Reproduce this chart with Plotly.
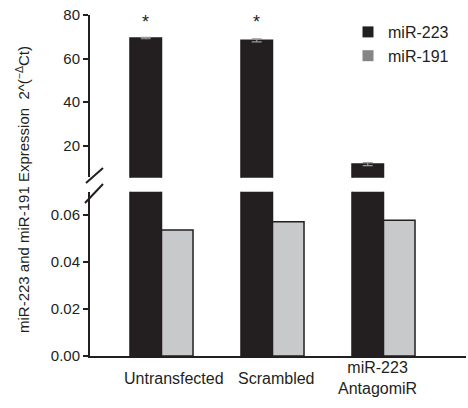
import plotly.graph_objects as go

categories = ["Untransfected", "Scrambled", "miR-223<br>AntagomiR"]
mir223 = [69.4, 68.4, 11.6]
mir223_err = [0.3, 0.7, 0.7]
mir191 = [0.0535, 0.0570, 0.0577]
upper_ticks = [20, 40, 60, 80]
lower_ticks = [0.00, 0.02, 0.04, 0.06]
lower_ticktext = ["0.00", "0.02", "0.04", "0.06"]
significant = [True, True, False]

BLACK = "#231f20"
GREY = "#c8c9cb"
LEG_GREY = "#858585"
FONT = "Liberation Sans, Arial, sans-serif"

W, H = 468, 408
L, R, T, B = 90, 2, 15, 52
ph = H - T - B
pw = W - L - R
px_per_cat = 111.0
x0 = -71.5 / px_per_cat
x1 = x0 + pw / px_per_cat

def py(yp):
    return (H - B - yp) / ph

def pxp(xp):
    return (xp - L) / pw

xs = list(range(len(categories)))

fig = go.Figure()
for yax in ["y", "y2"]:
    fig.add_trace(go.Bar(
        x=xs, y=mir223, yaxis=yax, name="miR-223", showlegend=False,
        marker=dict(color=BLACK, line=dict(color=BLACK, width=1.5)),
        error_y=dict(type="data", array=mir223_err, color="#9a9a9a",
                     thickness=1.2, width=5, visible=(yax == "y2")),
        hoverinfo="skip",
    ))
    fig.add_trace(go.Bar(
        x=xs, y=mir191, yaxis=yax, name="miR-191", showlegend=False,
        marker=dict(color=GREY, line=dict(color=BLACK, width=1.5)),
        hoverinfo="skip",
    ))

# legend entries
fig.add_trace(go.Scatter(x=[None], y=[None], mode="markers", name="miR-223",
                         marker=dict(symbol="square", size=11, color=BLACK)))
fig.add_trace(go.Scatter(x=[None], y=[None], mode="markers", name="miR-191",
                         marker=dict(symbol="square", size=11, color=LEG_GREY)))

upper_bottom = 20 - (177.7 - 145.7) / 43.6 * 20
lower_top = 0.06 + (214.7 - 191.7) / 47.0 * 0.02

annotations = []
for i, s in enumerate(significant):
    if s:
        annotations.append(dict(x=i, y=1.0, xref="x", yref="paper", text="*",
                                showarrow=False, xshift=-15.7, yshift=5,
                                font=dict(size=18, color=BLACK, family=FONT)))
label_shift = [0.113, 0.031, -0.058]
for i, c in enumerate(categories):
    annotations.append(dict(x=i + label_shift[i], y=py(378), xref="x", yref="paper",
                            text=c, showarrow=False, yanchor="middle",
                            font=dict(size=16, color=BLACK, family=FONT)))

shapes = []
for (xa, ya, xb, yb) in [(86, 183, 103, 168), (85, 203, 103, 184)]:
    shapes.append(dict(type="line", xref="paper", yref="paper",
                       x0=pxp(xa), y0=py(ya), x1=pxp(xb), y1=py(yb),
                       line=dict(color=BLACK, width=2)))
# white gap in axis between break marks
shapes.insert(0, dict(type="rect", xref="paper", yref="paper",
                      x0=pxp(86), x1=pxp(94), y0=py(190), y1=py(177),
                      fillcolor="white", line=dict(width=0), layer="above"))

fig.update_layout(
    width=W, height=H,
    margin=dict(l=L, r=R, t=T, b=B, pad=0),
    paper_bgcolor="white", plot_bgcolor="white",
    barmode="group", bargap=0.432, bargroupgap=0,
    font=dict(family=FONT, size=15, color=BLACK),
    showlegend=True,
    legend=dict(x=pxp(348), y=1.0, xanchor="left", yanchor="top",
                bgcolor="rgba(0,0,0,0)", font=dict(size=16, family=FONT),
                itemwidth=30, tracegroupgap=0),
    xaxis=dict(range=[x0, x1], showticklabels=False, ticks="", showgrid=False,
               zeroline=False, showline=True, linecolor=BLACK, linewidth=2,
               anchor="y", fixedrange=True),
    yaxis=dict(domain=[0, py(191.7)], range=[0, lower_top], tickvals=lower_ticks,
               ticktext=lower_ticktext, ticks="outside", ticklen=5, tickwidth=2,
               tickcolor=BLACK, showline=True, linecolor=BLACK, linewidth=2,
               showgrid=False, zeroline=False, tickfont=dict(size=15)),
    yaxis2=dict(domain=[py(177.7), 1], range=[upper_bottom, 80], tickvals=upper_ticks,
                ticks="outside", ticklen=5, tickwidth=2, tickcolor=BLACK,
                showline=True, linecolor=BLACK, linewidth=2, showgrid=False,
                zeroline=False, anchor="x", tickfont=dict(size=15)),
    annotations=annotations + [dict(
        x=pxp(22), y=py(190), xref="paper", yref="paper",
        text="miR-223 and miR-191 Expression  2^(<sup>\u2212\u0394</sup>Ct)",
        textangle=-90, showarrow=False, font=dict(size=15, family=FONT, color=BLACK),
        xanchor="center", yanchor="middle")],
    shapes=shapes,
)

fig.write_html("out.html")
